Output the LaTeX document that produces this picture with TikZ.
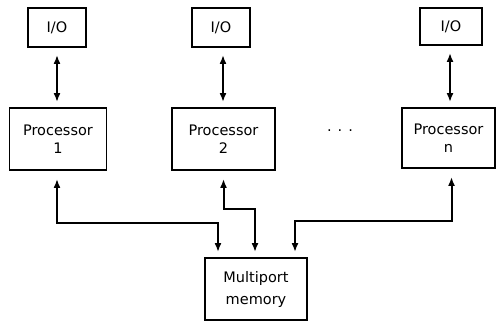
\documentclass[tikz,border=0pt]{standalone}
\usepackage{fontspec}
\setmainfont{DejaVu Sans}
\usetikzlibrary{arrows.meta,calc}
\begin{document}
\begin{tikzpicture}[x=1pt,y=-1pt,
  box/.style={draw,line width=1.9pt,rectangle,inner sep=0pt,
    font=\fontsize{14.5}{18}\selectfont,align=center},
  iobox/.style={box,minimum width=58pt,minimum height=39pt},
  procbox/.style={box,minimum width=97pt,minimum height=62pt},
  link/.style={line width=2pt,
    {Latex[length=9pt,width=7pt]}-{Latex[length=9pt,width=7pt]}}]
  \useasboundingbox (0,0) rectangle (497,321);

  % input/output units
  \node[iobox] (io1) at (57,27.5) {I/O};
  \node[iobox] (io2) at (221,27.5) {I/O};
  \node[iobox,minimum width=62pt,minimum height=37pt] (ion) at (451,26.5) {I/O};

  % processors
  \node[procbox] (p1) at (58,139) {Processor\\1};
  \node[procbox,minimum width=103pt] (p2) at (223.5,139) {Processor\\2};
  \node[procbox,minimum width=93pt,minimum height=60pt] (pn) at (448.5,138) {Processor\\n};
  \node[font=\fontsize{14.5}{18}\selectfont] (dots) at (340,131) {.\hspace{6pt}.\hspace{6pt}.};

  % shared memory
  \node[box,minimum width=102pt,minimum height=62pt,
    font=\fontsize{14.5}{22}\selectfont] (mem) at (256,289) {Multiport\\memory};

  % memory ports
  \coordinate (port1) at ($(mem.north)+(-38,0)$);
  \coordinate (port2) at ($(mem.north)+(-1,0)$);
  \coordinate (portn) at ($(mem.north)+(39,0)$);

  % I/O to processor links
  \draw[link,shorten <=7pt,shorten >=5pt] (io1.south) -- (io1.south |- p1.north);
  \draw[link,shorten <=7pt,shorten >=5pt] ([xshift=2pt]io2.south) -- ([xshift=2pt]io2.south |- p2.north);
  \draw[link,shorten <=7pt,shorten >=5pt] ([xshift=-1pt]ion.south) -- ([xshift=-1pt]ion.south |- pn.north);

  % processor to memory links
  \draw[link,shorten <=8pt,shorten >=5pt] ([xshift=-1pt]p1.south) -- ++(0,52) -| (port1);
  \draw[link,shorten <=8pt,shorten >=5pt] (p2.south) -- ++(0,38) -| (port2);
  \draw[link,shorten <=8pt,shorten >=5pt] ([xshift=3pt]pn.south) -- ++(0,52) -| (portn);
\end{tikzpicture}
\end{document}
